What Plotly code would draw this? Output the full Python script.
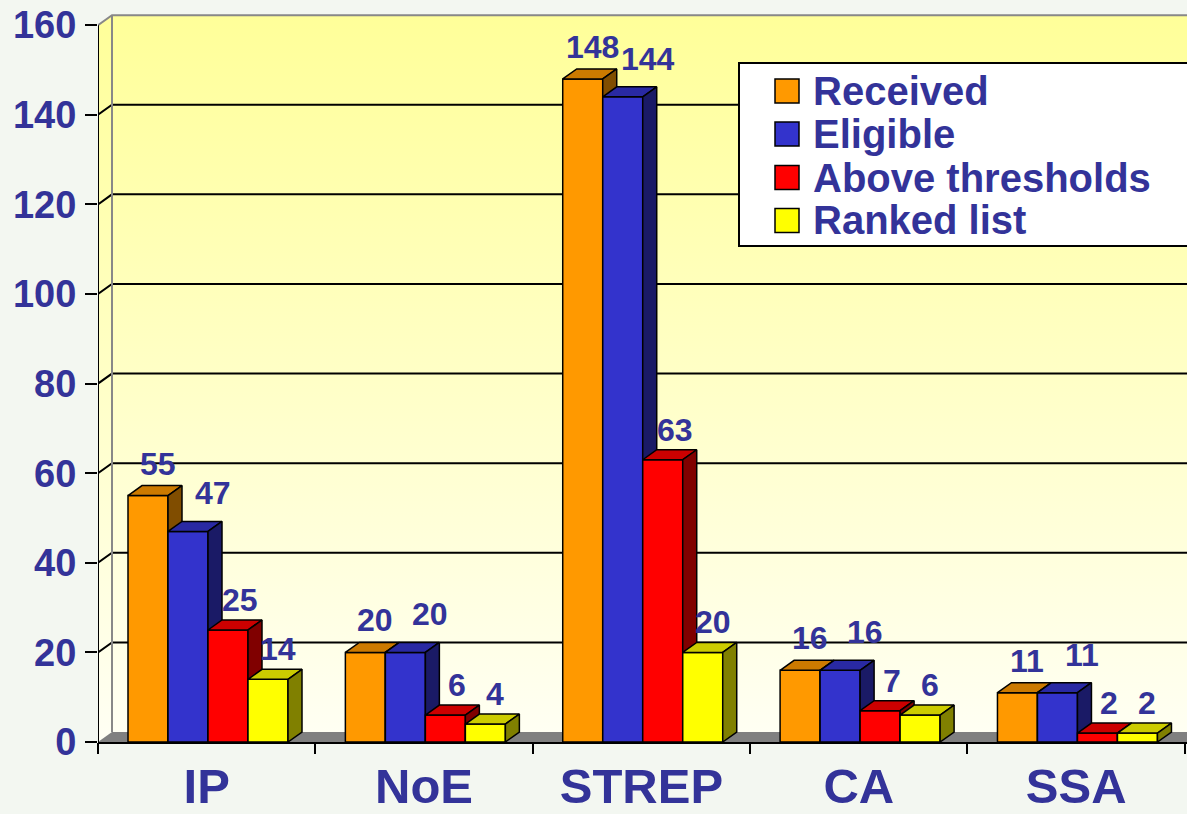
import plotly.graph_objects as go

# ---------------- data ----------------
categories = ["IP", "NoE", "STREP", "CA", "SSA"]
series_names = ["Received", "Eligible", "Above thresholds", "Ranked list"]
received = [55, 20, 148, 16, 11]
eligible = [47, 20, 144, 16, 11]
above_thresholds = [25, 6, 63, 7, 2]
ranked_list = [14, 4, 20, 6, 2]
y_ticks = [0, 20, 40, 60, 80, 100, 120, 140, 160]

series_values = [received, eligible, above_thresholds, ranked_list]

# ---------------- style ----------------
front_colors = ["#FF9900", "#3333CC", "#FF0000", "#FFFF00"]
top_colors = ["#CC7A00", "#2929A3", "#CC0000", "#CCCC00"]
side_colors = ["#804D00", "#1A1A66", "#800000", "#808000"]
TEXT = "#333399"
FONT = "Liberation Sans, Arial, sans-serif"
PAGE_BG = "#F3F7F1"

W, H = 1187, 814
ML, MR, MT, MB = 98, 0, 5, 72
XMAX, YMAX = 5.01, 164.5
plot_w = W - ML - MR
plot_h = H - MT - MB
PX_X = plot_w / XMAX
PX_Y = plot_h / YMAX
DX = 14 / PX_X   # depth offset (x)
DY = 10 / PX_Y   # depth offset (y)
BAR_OFF = 30 / PX_X
BAR_W = 40 / PX_X
LABEL_DX = [10, 25, 12, 10]
LABEL_DY = [32, 38, 30, 30]

fig = go.Figure()


def poly(xs, ys, fill=None, line_color="black", line_width=1.5, grad=None):
    kw = dict(x=xs, y=ys, mode="lines", hoverinfo="skip", showlegend=False,
              line=dict(color=line_color, width=line_width))
    if fill is not None or grad is not None:
        kw["fill"] = "toself"
        if grad is not None:
            kw["fillgradient"] = grad
        else:
            kw["fillcolor"] = fill
    fig.add_trace(go.Scatter(**kw))


top_val = y_ticks[-1]
# back + side wall with gradient
poly([0, 0, DX, XMAX, XMAX, DX, 0],
     [0, top_val, top_val + DY, top_val + DY, DY, DY, 0],
     grad=dict(type="vertical", colorscale=[[0, "#FFFFF4"], [1, "#FFFF99"]]),
     line_color="rgba(0,0,0,0)", line_width=0)
# floor
poly([0, DX, XMAX, XMAX, 0], [0, DY, DY, 0, 0], fill="#808080",
     line_color="rgba(0,0,0,0)", line_width=0)
# gridlines
gx, gy = [], []
for v in y_ticks[1:-1]:
    gx += [0, DX, XMAX, None]
    gy += [v, v + DY, v + DY, None]
poly(gx, gy, line_color="black", line_width=2)
# wall borders (gray)
poly([0, DX, XMAX, None, DX, DX],
     [top_val, top_val + DY, top_val + DY, None, top_val + DY, DY],
     line_color="#888888", line_width=2)
# front y axis line
poly([0, 0], [0, top_val], line_color="black", line_width=2)

# bars (3D boxes)
for s, vals in enumerate(series_values):
    fx, fy, tx, ty, sx, sy = [], [], [], [], [], []
    for i, h in enumerate(vals):
        x0 = i + BAR_OFF + s * BAR_W
        x1 = x0 + BAR_W
        fx += [x0, x0, x1, x1, x0, None]
        fy += [0, h, h, 0, 0, None]
        tx += [x0, x0 + DX, x1 + DX, x1, x0, None]
        ty += [h, h + DY, h + DY, h, h, None]
        sx += [x1, x1, x1 + DX, x1 + DX, x1, None]
        sy += [0, h, h + DY, DY, 0, None]
        fig.add_annotation(x=x0 + BAR_W / 2, y=h, text=str(h), showarrow=False,
                           xshift=LABEL_DX[s], yshift=LABEL_DY[s],
                           xanchor="center", yanchor="middle",
                           font=dict(family=FONT, size=32, color=TEXT, weight="bold"))
    poly(fx, fy, fill=front_colors[s])
    poly(tx, ty, fill=top_colors[s])
    poly(sx, sy, fill=side_colors[s])


# manual legend (pixel -> paper)
def pxx(px):
    return (px - ML) / plot_w


def pxy(py):
    return (H - MB - py) / plot_h


shapes = [dict(type="rect", xref="paper", yref="paper",
               x0=pxx(739), x1=pxx(1200), y0=pxy(246), y1=pxy(63),
               fillcolor="white", line=dict(color="black", width=2), layer="above")]
row_c = [91, 134, 177.5, 220.5]
for s, name in enumerate(series_names):
    c = row_c[s]
    shapes.append(dict(type="rect", xref="paper", yref="paper",
                       x0=pxx(775), x1=pxx(799), y0=pxy(c + 12), y1=pxy(c - 12),
                       fillcolor=front_colors[s], line=dict(color="black", width=1.5),
                       layer="above"))
    fig.add_annotation(xref="paper", yref="paper", x=pxx(811), y=pxy(c), text=name,
                       showarrow=False, xanchor="left", yanchor="middle",
                       font=dict(family=FONT, size=40, color=TEXT, weight="bold"))

fig.update_layout(
    width=W, height=H,
    margin=dict(l=ML, r=MR, t=MT, b=MB, pad=0),
    paper_bgcolor=PAGE_BG, plot_bgcolor=PAGE_BG,
    showlegend=False,
    shapes=shapes,
    xaxis=dict(range=[0, XMAX], tickvals=[i + 0.5 for i in range(len(categories))],
               ticktext=categories, ticks="", showgrid=False, zeroline=False,
               showline=True, linecolor="black", linewidth=2, automargin=False,
               ticklabelstandoff=0,
               tickfont=dict(family=FONT, size=49, color=TEXT, weight="bold")),
    xaxis2=dict(range=[0, XMAX], overlaying="x", anchor="y", side="bottom",
                tickvals=list(range(len(categories) + 1)), showticklabels=False,
                ticks="outside", ticklen=11, tickwidth=2, tickcolor="black",
                showgrid=False, zeroline=False, showline=False, automargin=False),
    yaxis=dict(range=[0, YMAX], tickvals=y_ticks, ticks="outside", ticklen=12,
               tickwidth=2, tickcolor="black", showgrid=False, zeroline=False,
               showline=False, automargin=False, ticklabelstandoff=1,
               tickfont=dict(family=FONT, size=38, color=TEXT, weight="bold")),
)
# dummy trace to activate xaxis2
fig.add_trace(go.Scatter(x=[None], y=[None], xaxis="x2", yaxis="y", showlegend=False,
                         hoverinfo="skip"))

fig.write_html(
    "out.html",
    config={"displayModeBar": False},
    post_script="document.body.style.margin='0';document.body.style.overflow='hidden';"
                "document.body.style.background='" + PAGE_BG + "';",
)
